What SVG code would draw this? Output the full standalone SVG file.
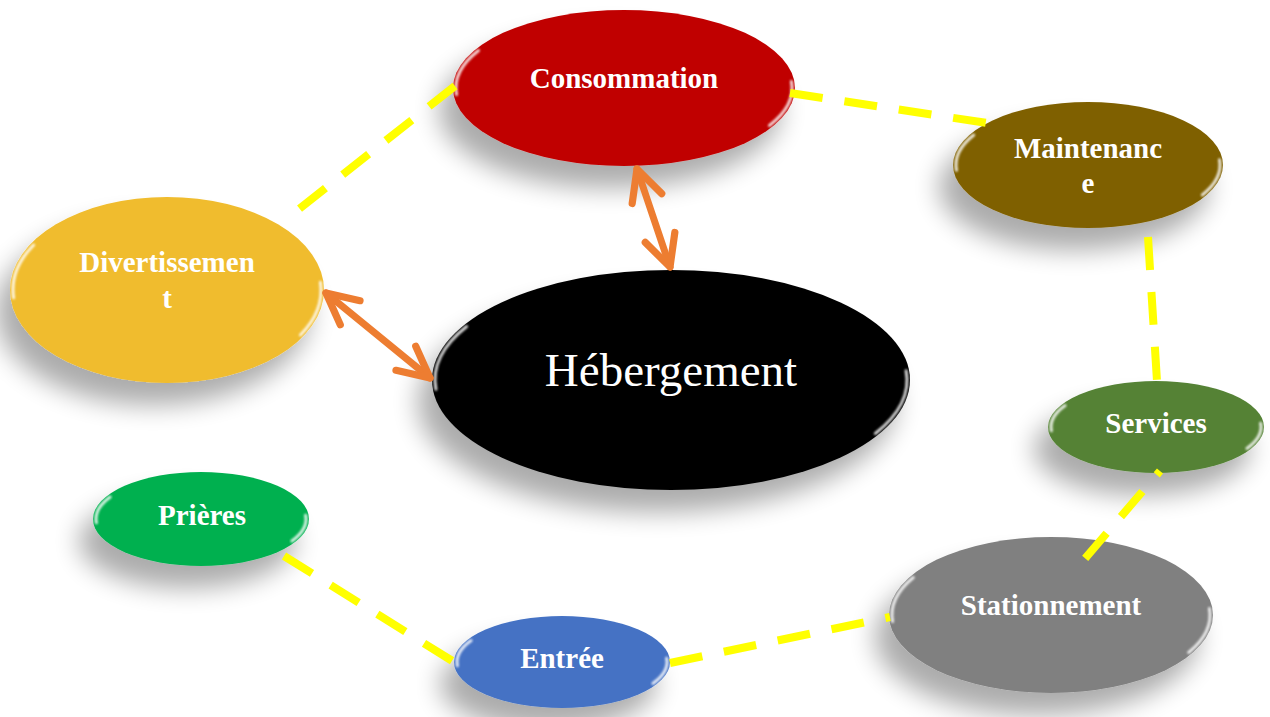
<svg xmlns="http://www.w3.org/2000/svg" width="1270" height="717" viewBox="0 0 1270 717">
<defs>
<filter id="sh" x="-40%" y="-40%" width="180%" height="210%">
<feGaussianBlur in="SourceAlpha" stdDeviation="13"/>
<feOffset dx="-14" dy="22"/>
<feComponentTransfer><feFuncA type="linear" slope="0.33"/></feComponentTransfer>
<feMerge><feMergeNode/><feMergeNode in="SourceGraphic"/></feMerge>
</filter>
<filter id="soft" x="-20%" y="-20%" width="140%" height="140%"><feGaussianBlur stdDeviation="1.2"/></filter>
<marker id="ah" viewBox="0 0 20 20" refX="17" refY="10" markerWidth="48" markerHeight="48" markerUnits="userSpaceOnUse" orient="auto-start-reverse">
<path d="M4 3.5 L17 10 L4 16.5" fill="none" stroke="#ED7D31" stroke-width="3" stroke-linecap="round" stroke-linejoin="round"/>
</marker>
</defs>
<style>
.lbl{font-family:"Liberation Serif","Times New Roman",serif;font-weight:bold;font-size:29px;fill:#fff;text-anchor:middle}
.big{font-family:"Liberation Serif","Times New Roman",serif;font-size:47px;fill:#fff;text-anchor:middle}
.hl{fill:none;stroke:#fff;stroke-width:3;stroke-linecap:round;opacity:0.85;filter:url(#soft)}
.dash{fill:none;stroke:#FFFF00;stroke-width:8;stroke-dasharray:33 22}
.arr{fill:none;stroke:#ED7D31;stroke-width:7;stroke-linecap:round;marker-start:url(#ah);marker-end:url(#ah)}
</style>
<rect width="1270" height="717" fill="#fff"/>
<g id="node-consommation">
<ellipse cx="624" cy="88" rx="171" ry="78" fill="#C00000" filter="url(#sh)"/>
<path class="hl" d="M456.6 94.5 A168 75 0 0 1 478.5 50.5"/>
<path class="hl" d="M791.4 81.5 A168 75 0 0 1 769.5 125.5"/>
<text class="lbl" x="624" y="88">Consommation</text>
</g>
<g id="node-divertissement">
<ellipse cx="167" cy="290" rx="157" ry="93" fill="#F0BC2D" filter="url(#sh)"/>
<path class="hl" d="M13.6 297.8 A154 90 0 0 1 33.6 245"/>
<path class="hl" d="M320.4 282.2 A154 90 0 0 1 300.4 335"/>
<text class="lbl" x="167" y="272">Divertissemen</text>
<text class="lbl" x="167" y="308">t</text>
</g>
<g id="node-maintenance">
<ellipse cx="1088" cy="165" rx="135" ry="63" fill="#7F6000" filter="url(#sh)"/>
<path class="hl" d="M956.5 170.2 A132 60 0 0 1 973.7 135"/>
<path class="hl" d="M1219.5 159.8 A132 60 0 0 1 1202.3 195"/>
<text class="lbl" x="1088" y="158">Maintenanc</text>
<text class="lbl" x="1088" y="193">e</text>
</g>
<g id="node-hebergement">
<ellipse cx="671" cy="380" rx="239" ry="110" fill="#000" filter="url(#sh)"/>
<path class="hl" d="M435.9 389.3 A236 107 0 0 1 466.6 326.5"/>
<path class="hl" d="M906.1 370.7 A236 107 0 0 1 875.4 433.5"/>
<text class="big" x="671" y="386">Hébergement</text>
</g>
<g id="node-services">
<ellipse cx="1156" cy="427" rx="108" ry="46" fill="#548235" filter="url(#sh)"/>
<path class="hl" d="M1051.4 430.7 A105 43 0 0 1 1065.1 405.5"/>
<path class="hl" d="M1260.6 423.3 A105 43 0 0 1 1246.9 448.5"/>
<text class="lbl" x="1156" y="433">Services</text>
</g>
<g id="node-stationnement">
<ellipse cx="1051" cy="615" rx="162" ry="78" fill="#808080" filter="url(#sh)"/>
<path class="hl" d="M892.6 621.5 A159 75 0 0 1 913.3 577.5"/>
<path class="hl" d="M1209.4 608.5 A159 75 0 0 1 1188.7 652.5"/>
<text class="lbl" x="1051" y="615">Stationnement</text>
</g>
<g id="node-prieres">
<ellipse cx="201" cy="519" rx="108" ry="47" fill="#00B050" filter="url(#sh)"/>
<path class="hl" d="M96.4 522.8 A105 44 0 0 1 110.1 497"/>
<path class="hl" d="M305.6 515.2 A105 44 0 0 1 291.9 541"/>
<text class="lbl" x="202" y="525">Prières</text>
</g>
<g id="node-entree">
<ellipse cx="562" cy="662" rx="108" ry="46" fill="#4472C4" filter="url(#sh)"/>
<path class="hl" d="M457.4 665.7 A105 43 0 0 1 471.1 640.5"/>
<path class="hl" d="M666.6 658.3 A105 43 0 0 1 652.9 683.5"/>
<text class="lbl" x="562" y="668">Entrée</text>
</g>
<g id="connectors">
<path class="dash" d="M455 86 L294 213"/>
<path class="dash" d="M790 93 L987 123"/>
<path class="dash" d="M1148 237 L1157 381"/>
<path class="dash" d="M1160 471 L1082 562" style="stroke-dashoffset:28"/>
<path class="dash" d="M670 663 L890 617"/>
<path class="dash" d="M284 556 L454 662"/>
<path class="arr" d="M637 169 L670 267"/>
<path class="arr" d="M326 293 L430 378"/>
</g>
</svg>
